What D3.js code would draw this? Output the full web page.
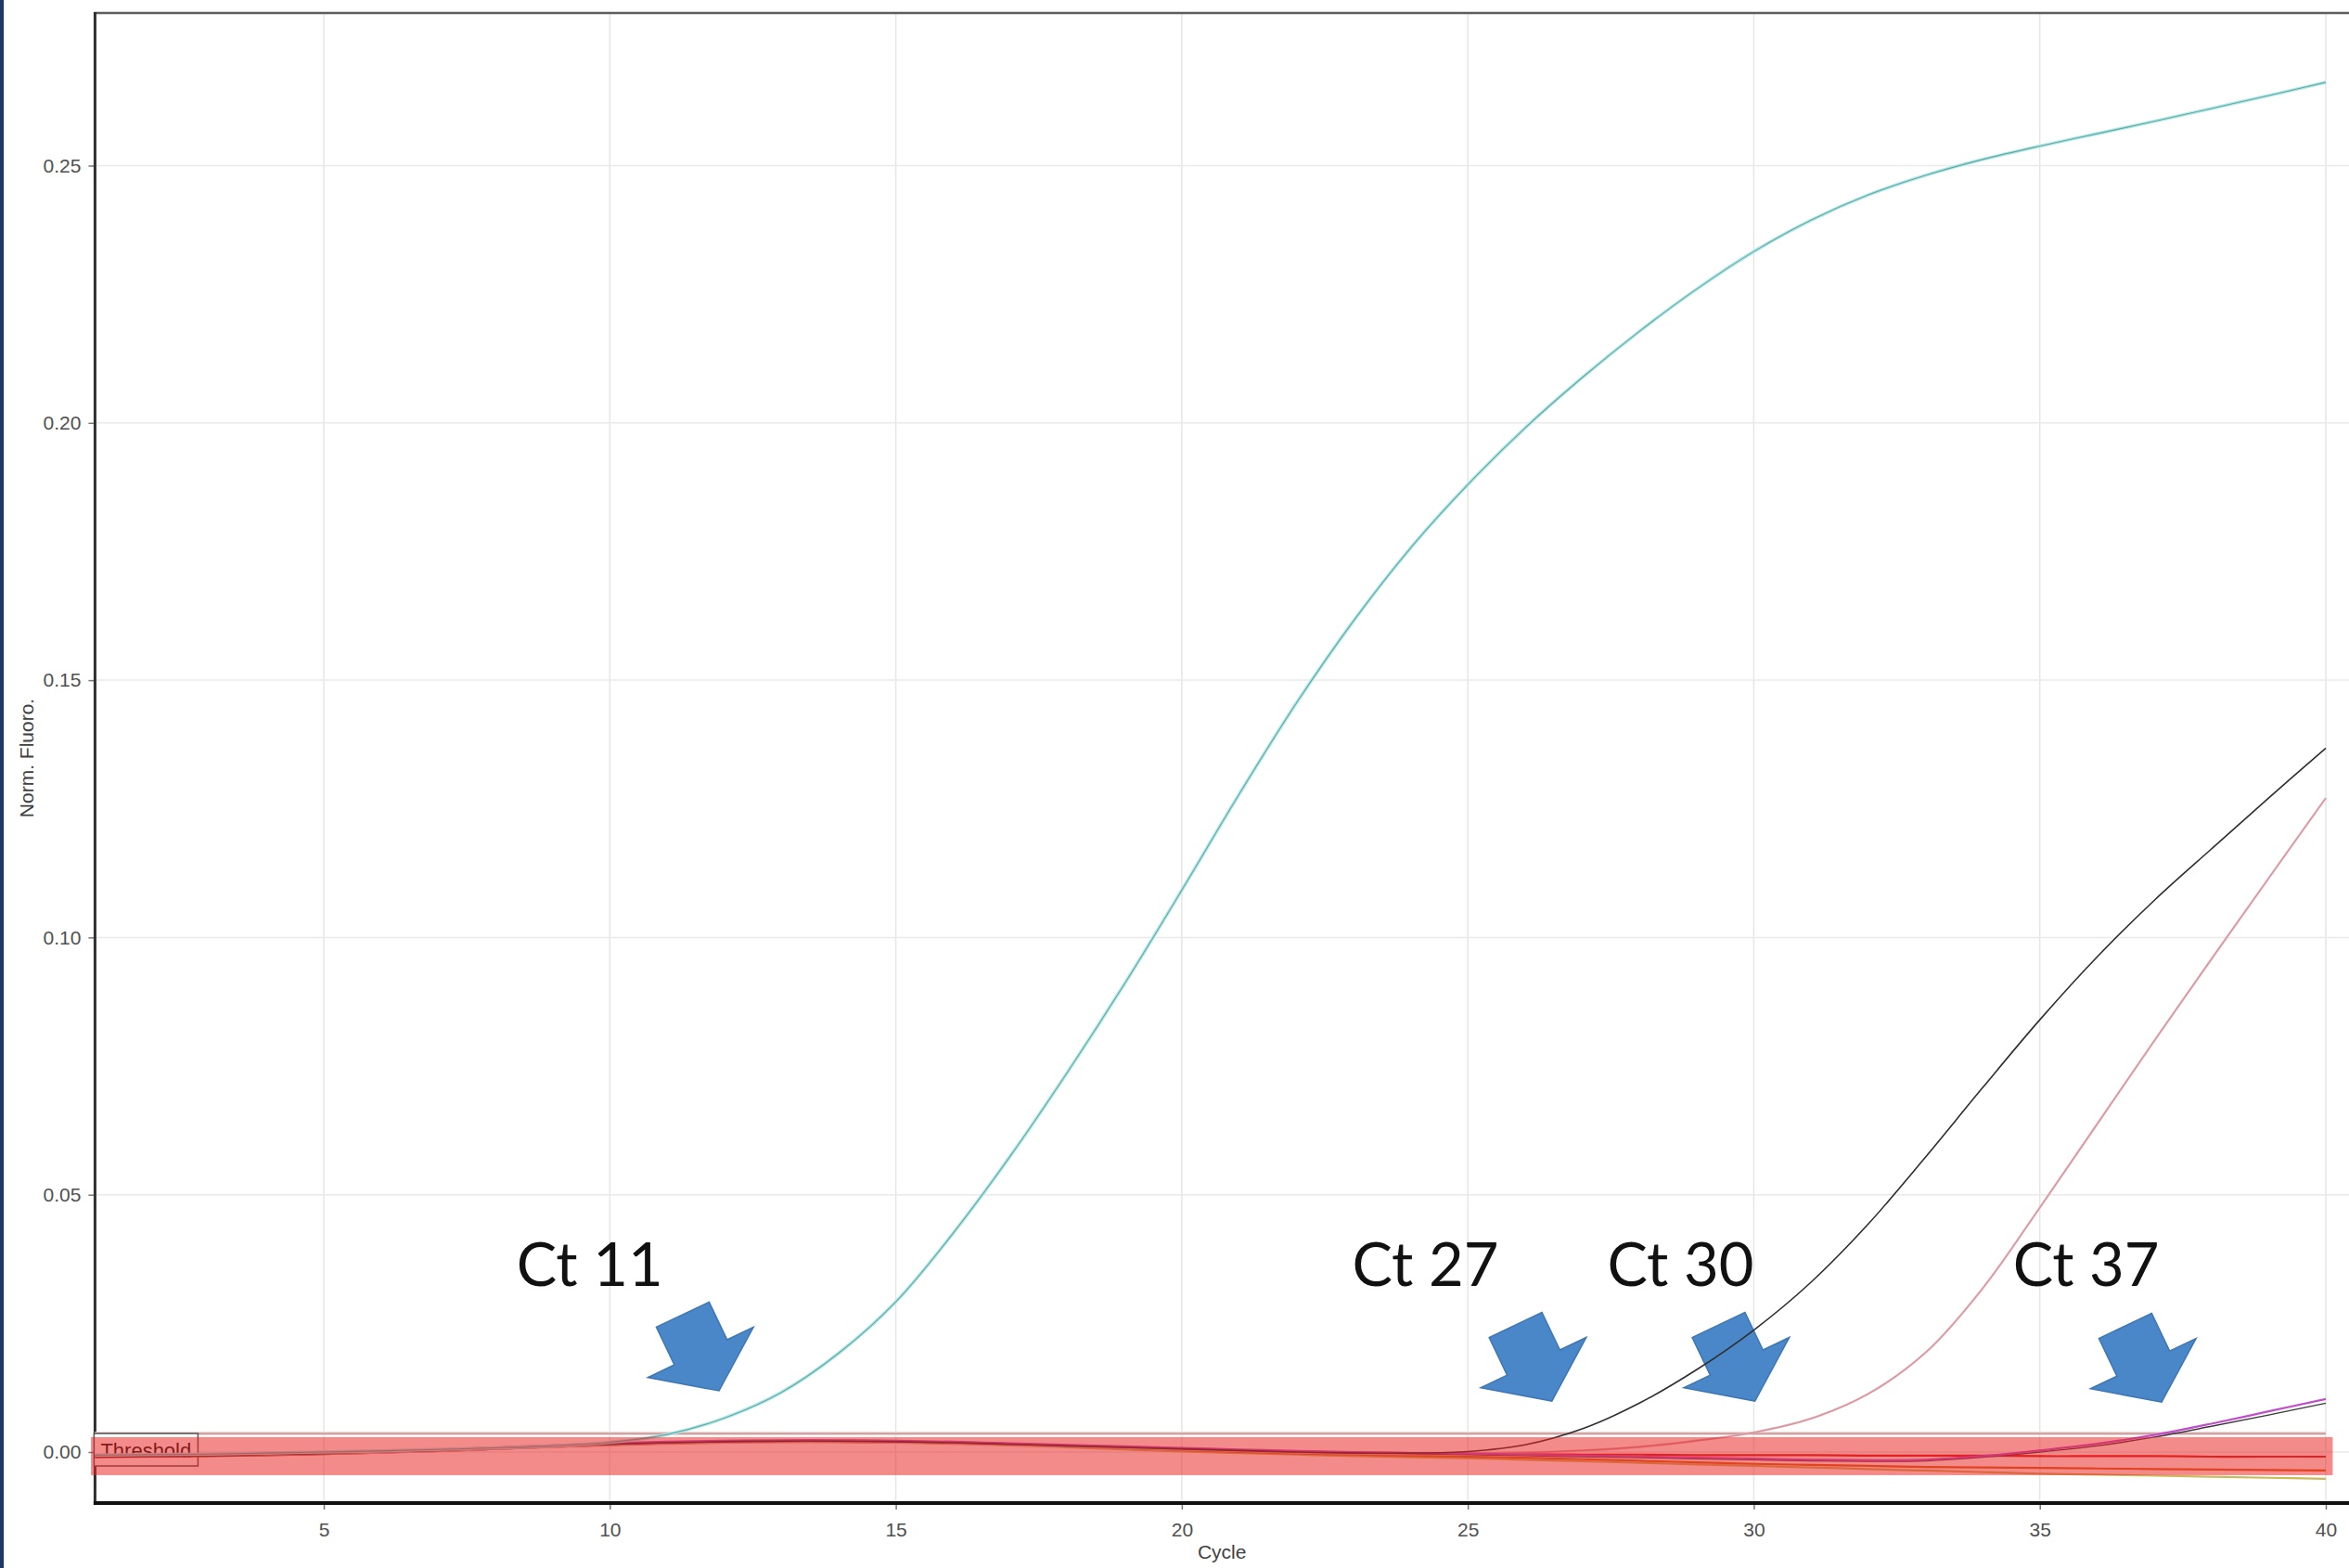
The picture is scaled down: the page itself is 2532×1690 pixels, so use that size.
<!DOCTYPE html>
<html>
<head>
<meta charset="utf-8">
<script src="https://cdn.jsdelivr.net/npm/d3@7"></script>
<style>
  html, body { margin: 0; padding: 0; background: #ffffff; overflow: hidden; }
  svg { display: block; }
</style>
</head>
<body>
<svg id="chart" width="2532" height="1690"></svg>
<script>
// ---- Data: normalised fluorescence per amplification cycle ----
const cycles = [1,2,3,4,5,6,7,8,9,10,11,12,13,14,15,16,17,18,19,20,
                21,22,23,24,25,26,27,28,29,30,31,32,33,34,35,36,37,38,39,40];

const xTickValues = [5, 10, 15, 20, 25, 30, 35, 40];
const yTickValues = [0.00, 0.05, 0.10, 0.15, 0.20, 0.25];

const thresholdValue = 0.0036;

// Sample with Ct 11
const sampleCt11 = [-0.0006,-0.0005,-0.0004,-0.0002,0.0000,0.0002,0.0005,0.0008,0.0012,0.0019,
                    0.0034,0.0066,0.0116,0.0192,0.0292,0.0425,0.0575,0.0738,0.0910,0.1092,
                    0.1278,0.1455,0.1615,0.1757,0.1880,0.1990,0.2088,0.2178,0.2260,0.2333,
                    0.2394,0.2443,0.2481,0.2512,0.2538,0.2562,0.2586,0.2611,0.2636,0.2662];

// Sample with Ct 27
const sampleCt27 = [-0.0009,-0.0008,-0.0007,-0.0005,-0.0003,0.0000,0.0003,0.0007,0.0011,0.0015,
                    0.0018,0.0020,0.0021,0.0021,0.0020,0.0018,0.0015,0.0012,0.0009,0.0006,
                    0.0003,0.0000,-0.0002,-0.0002,0.0001,0.0014,0.0045,0.0095,0.0160,0.0237,
                    0.0330,0.0443,0.0573,0.0708,0.0840,0.0962,0.1072,0.1172,0.1271,0.1368];

// Sample with Ct 30
const sampleCt30 = [-0.0007,-0.0007,-0.0006,-0.0005,-0.0003,-0.0001,0.0002,0.0006,0.0010,0.0014,
                    0.0017,0.0019,0.0020,0.0020,0.0019,0.0017,0.0014,0.0011,0.0008,0.0005,
                    0.0002,-0.0001,-0.0003,-0.0004,-0.0003,-0.0001,0.0003,0.0010,0.0022,0.0038,
                    0.0065,0.0113,0.0193,0.0318,0.0475,0.0637,0.0799,0.0958,0.1115,0.1271];

// Sample with Ct 37 (two replicates)
const sampleCt37a = [-0.0006,-0.0006,-0.0005,-0.0003,-0.0001,0.0002,0.0005,0.0009,0.0013,0.0017,
                     0.0020,0.0022,0.0023,0.0023,0.0022,0.0020,0.0017,0.0014,0.0011,0.0008,
                     0.0005,0.0002,0.0000,-0.0002,-0.0003,-0.0005,-0.0007,-0.0009,-0.0011,-0.0013,
                     -0.0015,-0.0016,-0.0015,-0.0008,0.0003,0.0016,0.0033,0.0055,0.0079,0.0103];
const sampleCt37b = [-0.0008,-0.0007,-0.0006,-0.0004,-0.0002,0.0001,0.0004,0.0008,0.0012,0.0016,
                     0.0019,0.0021,0.0022,0.0022,0.0021,0.0019,0.0016,0.0013,0.0010,0.0007,
                     0.0004,0.0001,-0.0001,-0.0003,-0.0005,-0.0007,-0.0009,-0.0011,-0.0013,-0.0015,
                     -0.0017,-0.0018,-0.0017,-0.0010,0.0000,0.0012,0.0029,0.0050,0.0072,0.0095];

// Negative controls (no amplification)
const negativeA = [-0.0010,-0.0009,-0.0008,-0.0006,-0.0004,-0.0001,0.0002,0.0006,0.0010,0.0014,
                   0.0017,0.0019,0.0020,0.0020,0.0019,0.0017,0.0015,0.0012,0.0009,0.0006,
                   0.0003,0.0001,-0.0001,-0.0002,-0.0003,-0.0004,-0.0005,-0.0005,-0.0006,-0.0006,
                   -0.0006,-0.0007,-0.0007,-0.0007,-0.0008,-0.0008,-0.0008,-0.0009,-0.0009,-0.0009];
const negativeB = [-0.0008,-0.0008,-0.0007,-0.0005,-0.0003,0.0000,0.0003,0.0007,0.0011,0.0015,
                   0.0018,0.0020,0.0021,0.0022,0.0021,0.0019,0.0016,0.0012,0.0008,0.0004,
                   0.0000,-0.0003,-0.0005,-0.0007,-0.0009,-0.0011,-0.0014,-0.0017,-0.0020,-0.0023,
                   -0.0025,-0.0027,-0.0029,-0.0030,-0.0031,-0.0032,-0.0033,-0.0034,-0.0035,-0.0036];
const negativeC = [-0.0009,-0.0008,-0.0007,-0.0006,-0.0004,-0.0001,0.0002,0.0006,0.0010,0.0013,
                   0.0016,0.0018,0.0019,0.0019,0.0018,0.0016,0.0013,0.0009,0.0005,0.0001,
                   -0.0002,-0.0005,-0.0008,-0.0010,-0.0012,-0.0015,-0.0018,-0.0021,-0.0024,-0.0027,
                   -0.0030,-0.0033,-0.0036,-0.0039,-0.0042,-0.0044,-0.0046,-0.0048,-0.0050,-0.0052];

// Ct call-outs
const ctNames = ["Ct 11", "Ct 27", "Ct 30", "Ct 37"];

// ---- Layout ----
const W = 2532, H = 1690;
const frame = { left: 102.4, top: 14, right: 2540, bottom: 1620 };

const x = d3.scaleLinear().domain([1, 40]).range([102.4, 2507]);
const y = d3.scaleLinear().domain([0, 0.25]).range([1565, 178.5]);

// call-out placement in chart units: label left edge / baseline, arrow tip
const calloutPlacement = [
  { textCycle: 8.37,  textValue: 0.0323, tipCycle: 11.91, tipValue: 0.0119 },
  { textCycle: 22.98, textValue: 0.0323, tipCycle: 26.47, tipValue: 0.0099 },
  { textCycle: 27.44, textValue: 0.0323, tipCycle: 30.02, tipValue: 0.0099 },
  { textCycle: 34.53, textValue: 0.0323, tipCycle: 37.13, tipValue: 0.0097 }
];

// highlight band laid over the baseline region
const band = { c0: 0.93, c1: 40.12, v0: 0.0029, v1: -0.0045 };

const svg = d3.select("#chart");

svg.append("rect").attr("width", W).attr("height", H).attr("fill", "#ffffff");
// slide edge on the left
svg.append("rect").attr("x", 0).attr("y", 0).attr("width", 4).attr("height", H).attr("fill", "#203864");

// ---- Grid ----
const grid = svg.append("g").attr("class", "grid");
grid.selectAll("line.vx").data(xTickValues).join("line")
  .attr("x1", d => x(d)).attr("x2", d => x(d))
  .attr("y1", frame.top).attr("y2", frame.bottom)
  .attr("stroke", "#e6e6e6").attr("stroke-width", 1.5);
grid.selectAll("line.hy").data(yTickValues).join("line")
  .attr("x1", frame.left).attr("x2", W)
  .attr("y1", d => y(d)).attr("y2", d => y(d))
  .attr("stroke", "#eaeaea").attr("stroke-width", 1.5);

// ---- Axes ----
const axisFont = "'Liberation Sans', Arial, sans-serif";
const xAxis = svg.append("g")
  .attr("transform", `translate(0,${frame.bottom})`)
  .call(d3.axisBottom(x).tickValues(xTickValues).tickSize(7).tickPadding(14).tickFormat(d3.format("d")));
const yAxis = svg.append("g")
  .attr("transform", `translate(${frame.left},0)`)
  .call(d3.axisLeft(y).tickValues(yTickValues).tickSize(7).tickPadding(8).tickFormat(d3.format(".2f")));
[xAxis, yAxis].forEach(g => {
  g.select(".domain").remove();
  g.selectAll(".tick line").attr("stroke", "#777").attr("stroke-width", 1.5);
  g.selectAll(".tick text").attr("fill", "#505050")
    .style("font-family", axisFont).style("font-size", "21px");
});

svg.append("text")
  .attr("x", (frame.left + W) / 2).attr("y", 1680)
  .attr("text-anchor", "middle")
  .style("font-family", axisFont).style("font-size", "21px").attr("fill", "#404040")
  .text("Cycle");
svg.append("text")
  .attr("transform", "translate(36,817) rotate(-90)")
  .attr("text-anchor", "middle")
  .style("font-family", axisFont).style("font-size", "21px").attr("fill", "#404040")
  .text("Norm. Fluoro.");

// ---- Frame ----
svg.append("line").attr("x1", frame.left - 1).attr("x2", W).attr("y1", frame.top).attr("y2", frame.top)
  .attr("stroke", "#5e5e5e").attr("stroke-width", 2.5);
svg.append("line").attr("x1", frame.left).attr("x2", frame.left).attr("y1", frame.top - 1).attr("y2", frame.bottom + 2)
  .attr("stroke", "#2e2e2e").attr("stroke-width", 3);
svg.append("line").attr("x1", frame.left - 1.5).attr("x2", W).attr("y1", frame.bottom).attr("y2", frame.bottom)
  .attr("stroke", "#111").attr("stroke-width", 4);

// ---- Threshold line and label ----
const thrY = y(thresholdValue);
svg.append("line").attr("x1", frame.left).attr("x2", x(40)).attr("y1", thrY).attr("y2", thrY)
  .attr("stroke", "#f6d4d4").attr("stroke-width", 4);
svg.append("line").attr("x1", frame.left).attr("x2", x(40)).attr("y1", thrY).attr("y2", thrY)
  .attr("stroke", "#b48888").attr("stroke-width", 1.2);
svg.append("rect").attr("x", frame.left - 1).attr("y", thrY).attr("width", 112).attr("height", 35)
  .attr("fill", "#ffffff").attr("stroke", "#555").attr("stroke-width", 1.5);
svg.append("text").attr("x", frame.left + 6).attr("y", thrY + 26)
  .style("font-family", axisFont).style("font-size", "22px").attr("fill", "#111")
  .text("Threshold");

// ---- Call-out arrows (block arrows pointing down and to the right) ----
const arrowShape = [[0,0],[63,-46],[31.5,-46],[31.5,-91],[-31.5,-91],[-31.5,-46],[-63,-46]];
svg.append("g").selectAll("polygon").data(calloutPlacement).join("polygon")
  .attr("points", arrowShape.map(p => p.join(",")).join(" "))
  .attr("transform", d => `translate(${x(d.tipCycle)},${y(d.tipValue)}) rotate(-25.5)`)
  .attr("fill", "#4a87c8").attr("stroke", "#3d76b5").attr("stroke-width", 1.5)
  .attr("stroke-linejoin", "miter");

// ---- Amplification curves ----
const line = d3.line()
  .x((d, i) => x(cycles[i]))
  .y(d => y(d))
  .curve(d3.curveCatmullRom.alpha(0.5));

const curves = [
  { values: negativeC,   stroke: "#cdb85a", width: 2.2 },
  { values: negativeB,   stroke: "#d8641a", width: 2.2 },
  { values: negativeA,   stroke: "#e01c1c", width: 2.2 },
  { values: sampleCt30,  stroke: "#eab0b8", width: 2.4 },
  { values: sampleCt30,  stroke: "#c98a94", width: 0.9 },
  { values: sampleCt37b, stroke: "#3a3a3a", width: 1.4 },
  { values: sampleCt37a, stroke: "#c24ccc", width: 2.2 },
  { values: sampleCt27,  stroke: "#2e2e2e", width: 1.6 },
  { values: sampleCt11,  stroke: "#b3e8e6", width: 3.6 },
  { values: sampleCt11,  stroke: "#5fa9a7", width: 1.1 }
];
svg.append("g").attr("fill", "none").selectAll("path").data(curves).join("path")
  .attr("d", d => line(d.values))
  .attr("stroke", d => d.stroke)
  .attr("stroke-width", d => d.width)
  .attr("stroke-linejoin", "round");

// ---- Highlight band over the baseline region ----
svg.append("rect")
  .attr("x", x(band.c0)).attr("width", x(band.c1) - x(band.c0))
  .attr("y", y(band.v0)).attr("height", y(band.v1) - y(band.v0))
  .attr("fill", "rgb(232,36,36)").attr("fill-opacity", 0.53);

// ---- Ct labels ----
svg.append("g").selectAll("text").data(calloutPlacement).join("text")
  .attr("x", d => x(d.textCycle)).attr("y", d => y(d.textValue))
  .style("font-family", "Lato, 'Open Sans', sans-serif").style("font-size", "65px")
  .attr("fill", "#111")
  .text((d, i) => ctNames[i]);
</script>
</body>
</html>
